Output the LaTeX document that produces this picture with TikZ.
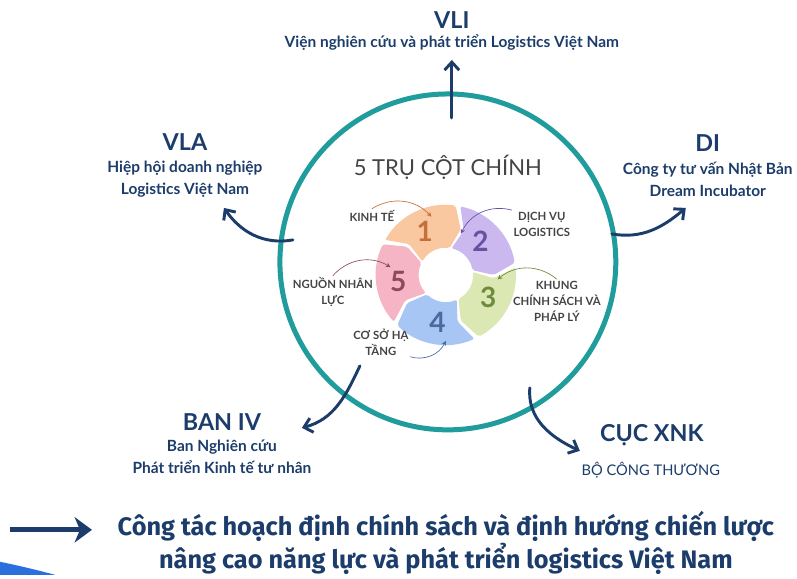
\documentclass[tikz,border=0pt]{standalone}
\usepackage{fontspec}
\setmainfont{Lato}
\newfontfamily\lowfont{Fira Sans}
\usetikzlibrary{arrows.meta,positioning}
\definecolor{navy}{HTML}{1C3D6B}
\definecolor{rim}{HTML}{1F9C9B}
\definecolor{labgrey}{HTML}{444444}
\definecolor{swoosh}{HTML}{2B6FDF}
\definecolor{seg1}{HTML}{F9C8A0}
\definecolor{seg2}{HTML}{CBB8EF}
\definecolor{seg3}{HTML}{DCE8B4}
\definecolor{seg4}{HTML}{A8C6F3}
\definecolor{seg5}{HTML}{F5B5C5}
\definecolor{num1}{HTML}{C4703A}
\definecolor{num2}{HTML}{6B4FA0}
\definecolor{num3}{HTML}{6E8B3D}
\definecolor{num4}{HTML}{4B6A9E}
\definecolor{num5}{HTML}{8C4A5C}
\tikzset{
  heading/.style={text=navy,font=\bfseries\fontsize{17.5}{20}\selectfont},
  subline/.style={text=navy,align=center,font=\bfseries\fontsize{11.6}{16.5}\selectfont},
  pillar/.style={text=labgrey,align=center,inner sep=1pt,font=\bfseries\fontsize{8.5}{12}\selectfont},
  bignum/.style={font=\bfseries\fontsize{21}{21}\selectfont},
  bigarrow/.style={navy,line width=2.2pt,line cap=round,->},
  pointer/.style={line width=0.5pt,-{Stealth[length=3.5pt,width=3.5pt]}},
}
\begin{document}
\begin{tikzpicture}[x=0.75pt,y=0.75pt,>={Straight Barb[length=6pt,width=11pt]}]
  \fill[white] (0,0) rectangle (797,-575);
  \draw[rim,line width=3.75pt] (448,-262) circle[radius=168];
  \node[text=labgrey,font=\fontsize{16.5}{16.5}\selectfont] (pillars) at (448,-167) {5 TRỤ CỘT CHÍNH};
  \begin{scope}[shift={(446,-275)}]
    \foreach \i/\c in {1/116,2/44,3/-28,4/-100,5/-172}{
      \fill[seg\i,rounded corners=1.5pt] ({\c+34}:70) arc[start angle=\c+34,end angle=\c-34,radius=70]
        -- ({\c-44}:48) -- ({\c-34}:27) arc[start angle=\c-34,end angle=\c+34,radius=27] -- ({\c+24}:48) -- cycle;
      \node[bignum,text=num\i] (n\i) at (\c:48) {\i};
    }
    \coordinate (p1) at (104:60);
    \coordinate (p2) at (70:44);
    \coordinate (p3) at (-5:52);
    \coordinate (p4) at (-90:66);
    \coordinate (p5) at (172:56);
  \end{scope}
  \node[pillar] (k1) at (372,-216) {KINH TẾ};
  \node[pillar] (k2) at (542,-224) {DỊCH VỤ\\LOGISTICS};
  \node[pillar] (k3) at (557,-301) {KHUNG\\CHÍNH SÁCH VÀ\\PHÁP LÝ};
  \node[pillar] (k4) at (381,-342) {CƠ SỞ HẠ\\TẦNG};
  \node[pillar] (k5) at (333,-292) {NGUỒN NHÂN\\LỰC};
  \draw[pointer,num1] (k1.north) to[bend left=40] (p1);
  \draw[pointer,num2] (k2.north west) to[bend right=40] (p2);
  \draw[pointer,num3] (k3.north) to[bend right=40] (p3);
  \draw[pointer,num4] (k4.south east) to[bend right=40] (p4);
  \draw[pointer,num5] (k5.north) to[bend left=40] (p5);
  \node[heading] (vli) at (452,-20) {VLI};
  \node[subline] (vli-t) at (452,-43) {Viện nghiên cứu và phát triển Logistics Việt Nam};
  \node[heading] (vla) at (185,-142) {VLA};
  \node[subline] (vla-t) at (185,-179) {Hiệp hội doanh nghiệp\\Logistics Việt Nam};
  \node[heading] (di) at (708,-143) {DI};
  \node[subline] (di-t) at (708,-179) {Công ty tư vấn Nhật Bản\\Dream Incubator};
  \node[heading] (ban) at (222,-422) {BAN IV};
  \node[subline] (ban-t) at (222,-457) {Ban Nghiên cứu\\Phát triển Kinh tế tư nhân};
  \node[heading] (xnk) at (652,-435) {CỤC XNK};
  \node[subline,font=\fontsize{11}{12}\selectfont] (xnk-t) at (651,-470) {BỘ CÔNG THƯƠNG};
  \coordinate (vli-s) at (452,-118);
  \coordinate (vli-e) at (452,-60);
  \coordinate (vla-s) at (293,-240);
  \coordinate (vla-e) at (224,-208);
  \coordinate (di-s) at (612,-234);
  \coordinate (di-e) at (686,-208);
  \coordinate (ban-s) at (360,-366);
  \coordinate (ban-e) at (302,-428);
  \coordinate (xnk-s) at (530,-388);
  \coordinate (xnk-e) at (580,-451);
  \draw[bigarrow] (vli-s) -- (vli-e);
  \draw[bigarrow] (vla-s) to[out=190,in=-55] (vla-e);
  \draw[bigarrow] (di-s) to[out=-10,in=220] (di-e);
  \draw[bigarrow] (ban-s) to[out=245,in=15] (ban-e);
  \draw[bigarrow] (xnk-s) to[out=265,in=155] (xnk-e);
  \fill[swoosh] (0,-562) .. controls (20,-566) and (40,-571) .. (55,-575) -- (0,-575) -- cycle;
  \coordinate (tail) at (10,-530);
  \coordinate (head) at (92,-530);
  \draw[navy,line width=4pt,-{Stealth[length=13pt,width=19pt,inset=4pt]}] (tail) -- (head);
  \node[text=navy,align=center,font=\lowfont\bfseries\fontsize{19}{20.5}\selectfont] (goal) at (446,-543) {Công tác hoạch định chính sách và định hướng chiến lược\\nâng cao năng lực và phát triển logistics Việt Nam};
\end{tikzpicture}
\end{document}
